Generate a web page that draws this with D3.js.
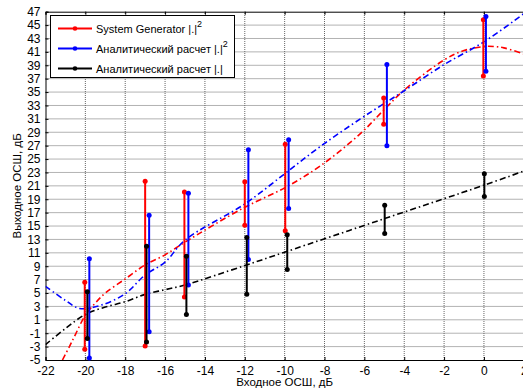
<!DOCTYPE html>
<html>
<head>
<meta charset="utf-8">
<script src="https://cdn.jsdelivr.net/npm/d3@7"></script>
<style>
  body { margin: 0; background: #fff; }
  svg { display: block; font-family: "Liberation Sans", Arial, sans-serif; }
</style>
</head>
<body>
<div id="chart"></div>
<script>
var w = 523,
  h = 392;

// error bar positions (input SNR, dB) for each series
var sgX    = [-20.03, -17.0, -15.03, -12.0, -9.97, -5.03, -0.03];
var blueX  = [-19.8, -16.8, -14.83, -11.82, -9.8, -4.87, 0.1];
var blackX = [-19.9, -16.93, -14.93, -11.9, -9.87, -4.98, 0.02];

// upper / lower ends of each bar (output SNR, dB)
var sgHi    = [6.6, 21.7, 20.1, 21.6, 27.2, 34.1, 45.8];
var sgLo    = [-3.4, -2.9, 4.4, 15.1, 14.3, 30.2, 37.4];
var blueHi  = [10.1, 16.6, 19.9, 26.4, 27.9, 39.1, 46.3];
var blueLo  = [-4.7, -0.8, 6.2, 10.0, 17.6, 27.0, 38.1];
var blackHi = [5.2, 12.0, 10.5, 13.3, 13.7, 18.1, 22.8];
var blackLo = [-1.8, -2.3, 1.8, 4.8, 8.5, 13.9, 19.4];

// fitted curves
var sgFitX = [-21.15, -20.8, -20.5, -20, -19.5, -19, -18, -17, -16, -15, -12, -10, -8.2, -6.2, -5, -4, -2, -1, 0, 0.5, 1, 2];
var sgFitY = [-5, -3.0, -1.2, 1.7, 3.5, 5.0, 7.1, 9.2, 10.7, 12.6, 17.8, 20.7, 24.0, 28.8, 32.4, 35.3, 39.8, 41.2, 41.8, 41.8, 41.6, 40.7];
var blueFitX = [-22, -21, -20.3, -19.2, -18, -17, -16, -15, -12, -10, -8.2, -6.2, -5, -4, -2, 0, 2];
var blueFitY = [6.0, 3.9, 2.7, 3.2, 4.9, 7.7, 9.6, 12.9, 18.3, 22.8, 26.9, 31.0, 33.3, 35.2, 39.1, 42.5, 46.7];
var blackFitX = [-22, -21, -20, -19, -18, -17, -16, -15, -12, -10, -5, 0, 2];
var blackFitY = [-2.7, -0.3, 1.8, 2.9, 3.7, 4.8, 5.5, 6.2, 9.1, 11.1, 16.1, 21.1, 23.2];

var xTicks = d3.range(-22, 3, 2);
var yTicks = d3.range(-5, 48, 2);

var legendNames = ["System Generator |.|", "Аналитический расчет |.|", "Аналитический расчет |.|"];
var legendSup = ["2", "2", ""];
var colors = ["#ff0000", "#0000ff", "#000000"];

var x = d3.scaleLinear().domain([-22, 2]).range([45.5, 523.8]);
var y = d3.scaleLinear().domain([-5, 47]).range([360, 11.7]);

var svg = d3.select("#chart").append("svg")
  .attr("width", w)
  .attr("height", h);

svg.append("defs").append("clipPath").attr("id", "plotclip")
  .append("rect")
  .attr("x", x(-22)).attr("y", y(47))
  .attr("width", x(2) - x(-22)).attr("height", y(-5) - y(47));

// grid
var grid = svg.append("g").attr("class", "grid");
grid.selectAll("line.gx")
  .data(xTicks.slice(1, -1))
  .enter().append("line")
  .attr("x1", function(d){ return x(d); })
  .attr("x2", function(d){ return x(d); })
  .attr("y1", y(-5)).attr("y2", y(47))
  .attr("stroke", "#666").attr("stroke-width", 1)
  .attr("stroke-dasharray", "1,1");
grid.selectAll("line.gy")
  .data(yTicks.slice(1, -1))
  .enter().append("line")
  .attr("y1", function(d){ return y(d); })
  .attr("y2", function(d){ return y(d); })
  .attr("x1", x(-22)).attr("x2", x(2))
  .attr("stroke", "#666").attr("stroke-width", 1)
  .attr("stroke-dasharray", "1,1");

// axes
var xAxis = d3.axisBottom(x).tickValues(xTicks).tickSize(-3).tickPadding(6).tickFormat(d3.format("d"));
var yAxis = d3.axisLeft(y).tickValues(yTicks).tickSize(-3).tickPadding(5).tickFormat(d3.format("d"));

var gx = svg.append("g").attr("transform", "translate(0," + y(-5) + ")").call(xAxis);
var gy = svg.append("g").attr("transform", "translate(" + x(-22) + ",0)").call(yAxis);
var gTop = svg.append("g").attr("transform", "translate(0," + y(47) + ")")
  .call(d3.axisTop(x).tickValues(xTicks).tickSize(-3).tickFormat(""));
[gx, gy, gTop].forEach(function(g){
  g.select(".domain").attr("stroke", "#000");
  g.selectAll(".tick line").attr("stroke", "#000");
  g.selectAll(".tick text").attr("font-size", "12px").attr("fill", "#000")
    .attr("font-family", "Liberation Sans, Arial, sans-serif");
});
gx.selectAll(".tick text").text(function(d){ return d < 0 ? "-" + Math.abs(d) : d; });
gy.selectAll(".tick text").text(function(d){ return d < 0 ? "-" + Math.abs(d) : d; });

// axis titles
svg.append("text")
  .attr("x", (x(-22) + x(2)) / 2).attr("y", 386)
  .attr("text-anchor", "middle").attr("font-size", "11.5px")
  .text("Входное ОСШ, дБ");
svg.append("text")
  .attr("transform", "translate(21," + ((y(-5) + y(47)) / 2) + ") rotate(-90)")
  .attr("text-anchor", "middle").attr("font-size", "11.5px")
  .text("Выходное ОСШ, дБ");

// fitted curves
var plot = svg.append("g").attr("clip-path", "url(#plotclip)");
var line = d3.line()
  .x(function(d){ return x(d[0]); })
  .y(function(d){ return y(d[1]); })
  .curve(d3.curveCatmullRom);

var fits = [
  { xs: sgFitX, ys: sgFitY, c: colors[0] },
  { xs: blueFitX, ys: blueFitY, c: colors[1] },
  { xs: blackFitX, ys: blackFitY, c: colors[2] }
];
fits.forEach(function(f){
  var pts = f.xs.map(function(v, i){ return [v, f.ys[i]]; });
  plot.append("path")
    .attr("d", line(pts))
    .attr("fill", "none")
    .attr("stroke", f.c)
    .attr("stroke-width", 1.6)
    .attr("stroke-dasharray", "6,3,1.5,3");
});

// error bars
var bars = [
  { xs: sgX, hi: sgHi, lo: sgLo, c: colors[0] },
  { xs: blueX, hi: blueHi, lo: blueLo, c: colors[1] },
  { xs: blackX, hi: blackHi, lo: blackLo, c: colors[2] }
];
bars.forEach(function(b){
  var data = b.xs.map(function(v, i){ return { x: v, hi: b.hi[i], lo: b.lo[i] }; });
  var g = svg.append("g");
  g.selectAll("line")
    .data(data)
    .enter().append("line")
    .attr("x1", function(d){ return x(d.x); })
    .attr("x2", function(d){ return x(d.x); })
    .attr("y1", function(d){ return y(d.hi); })
    .attr("y2", function(d){ return y(d.lo); })
    .attr("stroke", b.c)
    .attr("stroke-width", 2);
  g.selectAll("circle.hi")
    .data(data)
    .enter().append("circle")
    .attr("cx", function(d){ return x(d.x); })
    .attr("cy", function(d){ return y(d.hi); })
    .attr("r", 2.5).attr("fill", b.c);
  g.selectAll("circle.lo")
    .data(data)
    .enter().append("circle")
    .attr("cx", function(d){ return x(d.x); })
    .attr("cy", function(d){ return y(d.lo); })
    .attr("r", 2.5).attr("fill", b.c);
});

// legend
var legend = svg.append("g").attr("class", "legend");
legend.append("rect")
  .attr("x", 50.5).attr("y", 15.5)
  .attr("width", 184).attr("height", 62)
  .attr("fill", "#fff").attr("stroke", "#000").attr("stroke-width", 1);
legendNames.forEach(function(name, i){
  var ly = 28.5 + i * 20;
  legend.append("line")
    .attr("x1", 58).attr("x2", 92)
    .attr("y1", ly).attr("y2", ly)
    .attr("stroke", colors[i]).attr("stroke-width", 2);
  legend.append("circle")
    .attr("cx", 75).attr("cy", ly).attr("r", 2.3).attr("fill", colors[i]);
  var t = legend.append("text")
    .attr("x", 96).attr("y", ly + 4)
    .attr("font-size", "11px").attr("fill", "#000")
    .text(name);
  if (legendSup[i]) {
    t.append("tspan").attr("dy", -6).attr("font-size", "9px").text(legendSup[i]);
  }
});
</script>
</body>
</html>
